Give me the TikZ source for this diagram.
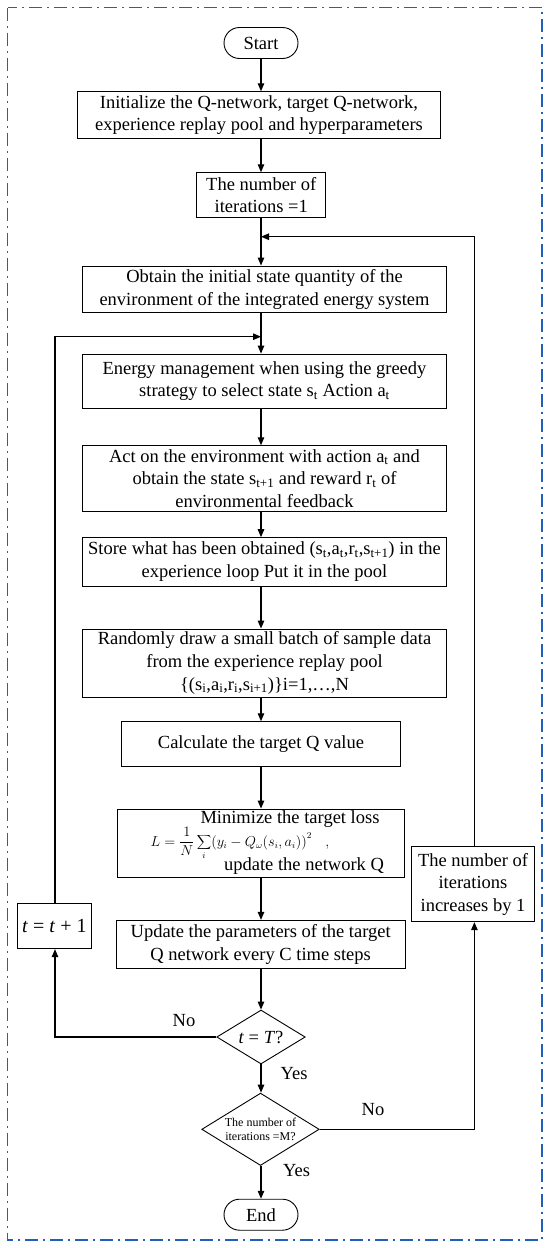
\documentclass[tikz,border=0pt]{standalone}
\usepackage{fontspec}
\setmainfont{Liberation Serif}
\usetikzlibrary{shapes.geometric,arrows.meta}
\definecolor{frameblue}{RGB}{30,96,186}
\newcommand{\mysub}[1]{\textsubscript{#1}}
\begin{document}
\begin{tikzpicture}[x=1pt,y=-1pt,
  box/.style={draw=black,line width=0.9pt,inner sep=0pt,align=center,font=\fontsize{18.5}{22.7}\selectfont},
  term/.style={box,rounded corners=15.5pt,minimum width=74pt,minimum height=31pt},
  dia/.style={draw=black,line width=0.9pt,diamond,inner sep=0pt},
  txt/.style={inner sep=0pt,align=center,font=\fontsize{18.5}{22.7}\selectfont},
  arr/.style={-{Triangle[length=8pt,width=6.5pt]},line width=1.2pt},
  ln/.style={line width=1.2pt}]
\useasboundingbox (0,0) rectangle (550,1248);
\draw[frameblue,line width=1.8pt,dash pattern=on 13pt off 5pt on 2pt off 5pt] (7.5,7.5) rectangle (542,1240);

\node[term] (start) at (261,43) {Start};
\node[box,minimum width=363pt,minimum height=46.6pt] (init) at (259,115)
  {Initialize the Q-network, target Q-network,\\experience replay pool and hyperparameters};
\node[box,minimum width=129pt,minimum height=45pt] (num) at (261.2,195.2)
  {The number of\\iterations =1};
\node[box,minimum width=363.5pt,minimum height=46.7pt] (obtain) at (264.5,289.3)
  {Obtain the initial state quantity of the\\environment of the integrated energy system};
\node[box,minimum width=363.5pt,minimum height=54.3pt] (energy) at (264.5,381.2)
  {Energy management when using the greedy\\strategy to select state s\mysub{t} Action a\mysub{t}};
\node[box,minimum width=363.5pt,minimum height=65.6pt] (act) at (264.5,478.5)
  {Act on the environment with action a\mysub{t} and\\obtain the state s\mysub{t+1} and reward r\mysub{t} of\\environmental feedback};
\node[box,minimum width=363.5pt,minimum height=48.3pt] (store) at (264.5,561.8)
  {Store what has been obtained (s\mysub{t},a\mysub{t},r\mysub{t},s\mysub{t+1}) in the\\experience loop Put it in the pool};
\node[box,minimum width=363.5pt,minimum height=68pt] (random) at (264.5,663)
  {Randomly draw a small batch of sample data\\from the experience replay pool\\\{(s\mysub{i},a\mysub{i},r\mysub{i},s\mysub{i+1})\}i=1,…,N};
\node[box,minimum width=279.7pt,minimum height=45pt] (calc) at (261,744.2)
  {Calculate the target Q value};
\node[box,minimum width=287.4pt,minimum height=68pt] (min) at (261,843) {};
\node[txt] (minA) at (290,819) {Minimize the target loss};
\node[inner sep=0pt,font=\fontsize{13.5}{15}\selectfont] (minB) at (240,843)
  {$\displaystyle L=\frac{1}{N}\sum_{i}\bigl(y_i-Q_{\omega}(s_i,a_i)\bigr)^2\quad,$};
\node[txt] (minC) at (304,866) {update the network Q};
\node[box,minimum width=289.3pt,minimum height=48pt] (update) at (260.7,944.3)
  {Update the parameters of the target\\Q network every C time steps};
\node[box,minimum width=73.7pt,minimum height=45pt,font=\fontsize{20}{22}\selectfont] (tbox) at (54.4,926.2)
  {\textit{t} = \textit{t} + 1};
\node[box,minimum width=122.6pt,minimum height=75pt,font=\fontsize{18.5}{22.3}\selectfont] (inc) at (473,884.2)
  {The number of\\iterations\\increases by 1};
\node[dia,minimum width=88.5pt,minimum height=54pt] (d1) at (261,1037) {};
\node[txt] (d1t) at (261,1037) {\textit{t} = \textit{T}?};
\node[dia,minimum width=117.5pt,minimum height=72.4pt] (d2) at (260.5,1129.3) {};
\node[inner sep=0pt,align=center,font=\fontsize{12}{14.3}\selectfont] (d2t) at (260.5,1129.3)
  {The number of\\iterations =M?};
\node[term] (end) at (261,1214.7) {End};

\node[txt] (no1) at (184,1021) {No};
\node[txt] (yes1) at (294,1073.3) {Yes};
\node[txt] (no2) at (373,1110) {No};
\node[txt] (yes2) at (296.5,1171) {Yes};

\coordinate (m1) at (261,236.7);
\coordinate (m2) at (261,336.7);
\coordinate (lx) at (55,0);
\coordinate (rx) at (474.4,0);

\draw[arr] (start.south) -- (start.south |- init.north);
\draw[arr] (start.south |- init.south) -- (start.south |- num.north);
\draw[arr] (start.south |- num.south) -- (start.south |- obtain.north);
\draw[arr] (start.south |- obtain.south) -- (start.south |- energy.north);
\draw[arr] (start.south |- energy.south) -- (start.south |- act.north);
\draw[arr] (start.south |- act.south) -- (start.south |- store.north);
\draw[arr] (start.south |- store.south) -- (start.south |- random.north);
\draw[arr] (start.south |- random.south) -- (start.south |- calc.north);
\draw[arr] (calc.south) -- (start.south |- min.north);
\draw[arr] (start.south |- min.south) -- (start.south |- update.north);
\draw[arr] (start.south |- update.south) -- (d1.north);
\draw[arr] (d1.south) -- (start.south |- d2.north);
\draw[arr] (start.south |- d2.south) -- (end.north);

\draw[arr] (d1.west) -- (lx |- d1.west) -- (lx |- tbox.south);
\draw[arr] (lx |- tbox.north) -- (lx |- m2) -- (m2);
\draw[arr] (d2.east) -- (rx |- d2.east) -- (rx |- inc.south);
\draw[arr] (rx |- inc.north) -- (rx |- m1) -- (m1);
\end{tikzpicture}
\end{document}
